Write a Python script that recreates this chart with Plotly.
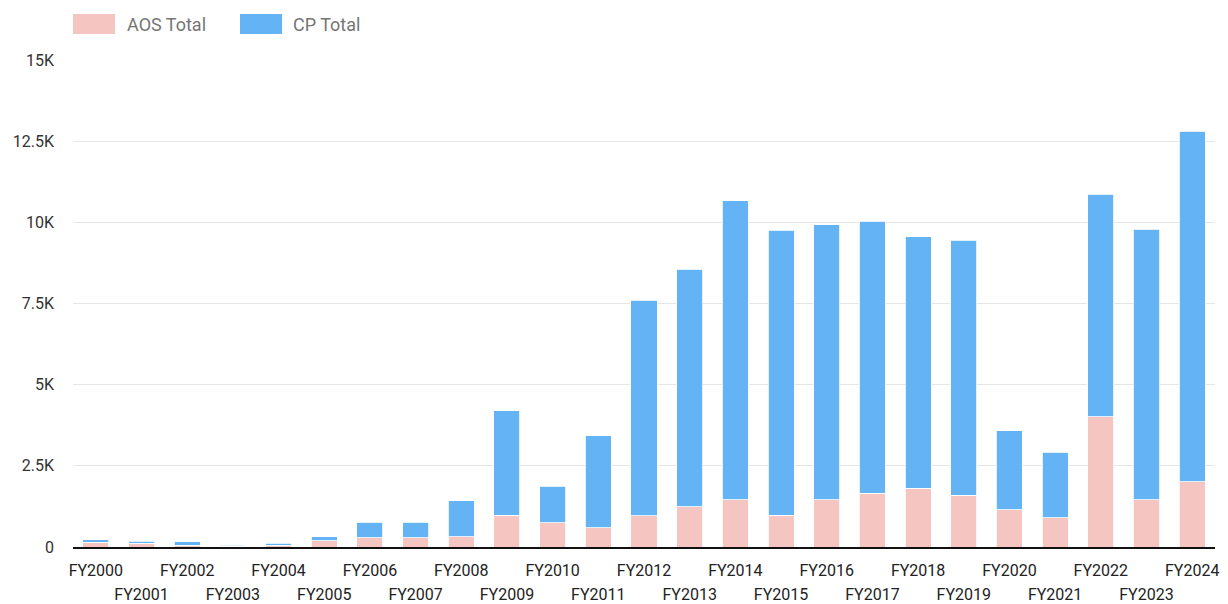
import plotly.graph_objects as go

years = [f"FY{y}" for y in range(2000, 2025)]
aos_total = [150, 120, 60, 20, 50, 190, 280, 280, 320, 985, 750, 595, 955, 1240,
             1450, 985, 1450, 1650, 1810, 1600, 1140, 900, 4010, 1450, 2010]
grand_total = [230, 180, 160, 60, 120, 320, 770, 770, 1430, 4190, 1870, 3430, 7600, 8560,
               10660, 9760, 9920, 10040, 9550, 9450, 3580, 2925, 10870, 9790, 12810]
cp_total = [t - a for t, a in zip(grand_total, aos_total)]
y_ticks = [0, 2500, 5000, 7500, 10000, 12500, 15000]
y_tick_labels = ["0", "2.5K", "5K", "7.5K", "10K", "12.5K", "15K"]

LBL = '<span style="font-size:16px">{}</span>'
tick_labels = [LBL.format(y) if i % 2 == 0 else "<br>" + LBL.format(y)
               for i, y in enumerate(years)]

AOS_COLOR = "#f4c5c1"
CP_COLOR = "#63b3f5"

fig = go.Figure()
fig.add_trace(go.Bar(x=years, y=aos_total, name="AOS Total",
                     marker=dict(color=AOS_COLOR, line=dict(color="white", width=0.8))))
fig.add_trace(go.Bar(x=years, y=cp_total, name="CP Total",
                     marker=dict(color=CP_COLOR, line=dict(color="white", width=0.8))))

W, H = 1228, 604
ml, mr, mt, mb = 73, 13, 60, 57
pw = W - ml - mr
ph = H - mt - mb

def px_x(x):
    return (x - ml) / pw

def px_y(y):
    return 1 + (mt - y) / ph

shapes = []
annotations = []
for name, color, x0, tx in [("AOS Total", AOS_COLOR, 73, 125), ("CP Total", CP_COLOR, 240, 291)]:
    shapes.append(dict(type="rect", xref="paper", yref="paper",
                       x0=px_x(x0), x1=px_x(x0 + 42), y0=px_y(34), y1=px_y(14),
                       fillcolor=color, line=dict(width=0)))
    annotations.append(dict(text=name, xref="paper", yref="paper", x=px_x(tx), y=px_y(24),
                            xanchor="left", yanchor="middle", showarrow=False,
                            font=dict(family="Roboto", size=18, color="#757575")))

fig.update_layout(
    barmode="stack",
    bargap=0.43,
    width=W, height=H,
    margin=dict(l=ml, r=mr, t=mt, b=mb, autoexpand=False),
    plot_bgcolor="white",
    paper_bgcolor="white",
    showlegend=False,
    shapes=shapes,
    annotations=annotations,
    font=dict(family="Roboto", color="#222222"),
    xaxis=dict(tickmode="array", tickvals=years, ticktext=tick_labels,
               tickangle=0, automargin=False,
               tickfont=dict(family="Roboto", size=19, color="#222222"),
               showline=True, linecolor="#111111", linewidth=1.5,
               showgrid=False, ticks="", range=[-0.5, 24.5], ticklabelstandoff=4),
    yaxis=dict(range=[0, 15000], tickvals=y_ticks, ticktext=y_tick_labels,
               automargin=False,
               tickfont=dict(family="Roboto", size=16, color="#333333"),
               gridcolor="#e6e6e6", gridwidth=1, zeroline=False,
               ticks="", ticklabelstandoff=18),
)

fig.write_html("out.html", config={"displayModeBar": False},
               post_script="document.body.style.margin='0';document.body.style.overflow='hidden';")
